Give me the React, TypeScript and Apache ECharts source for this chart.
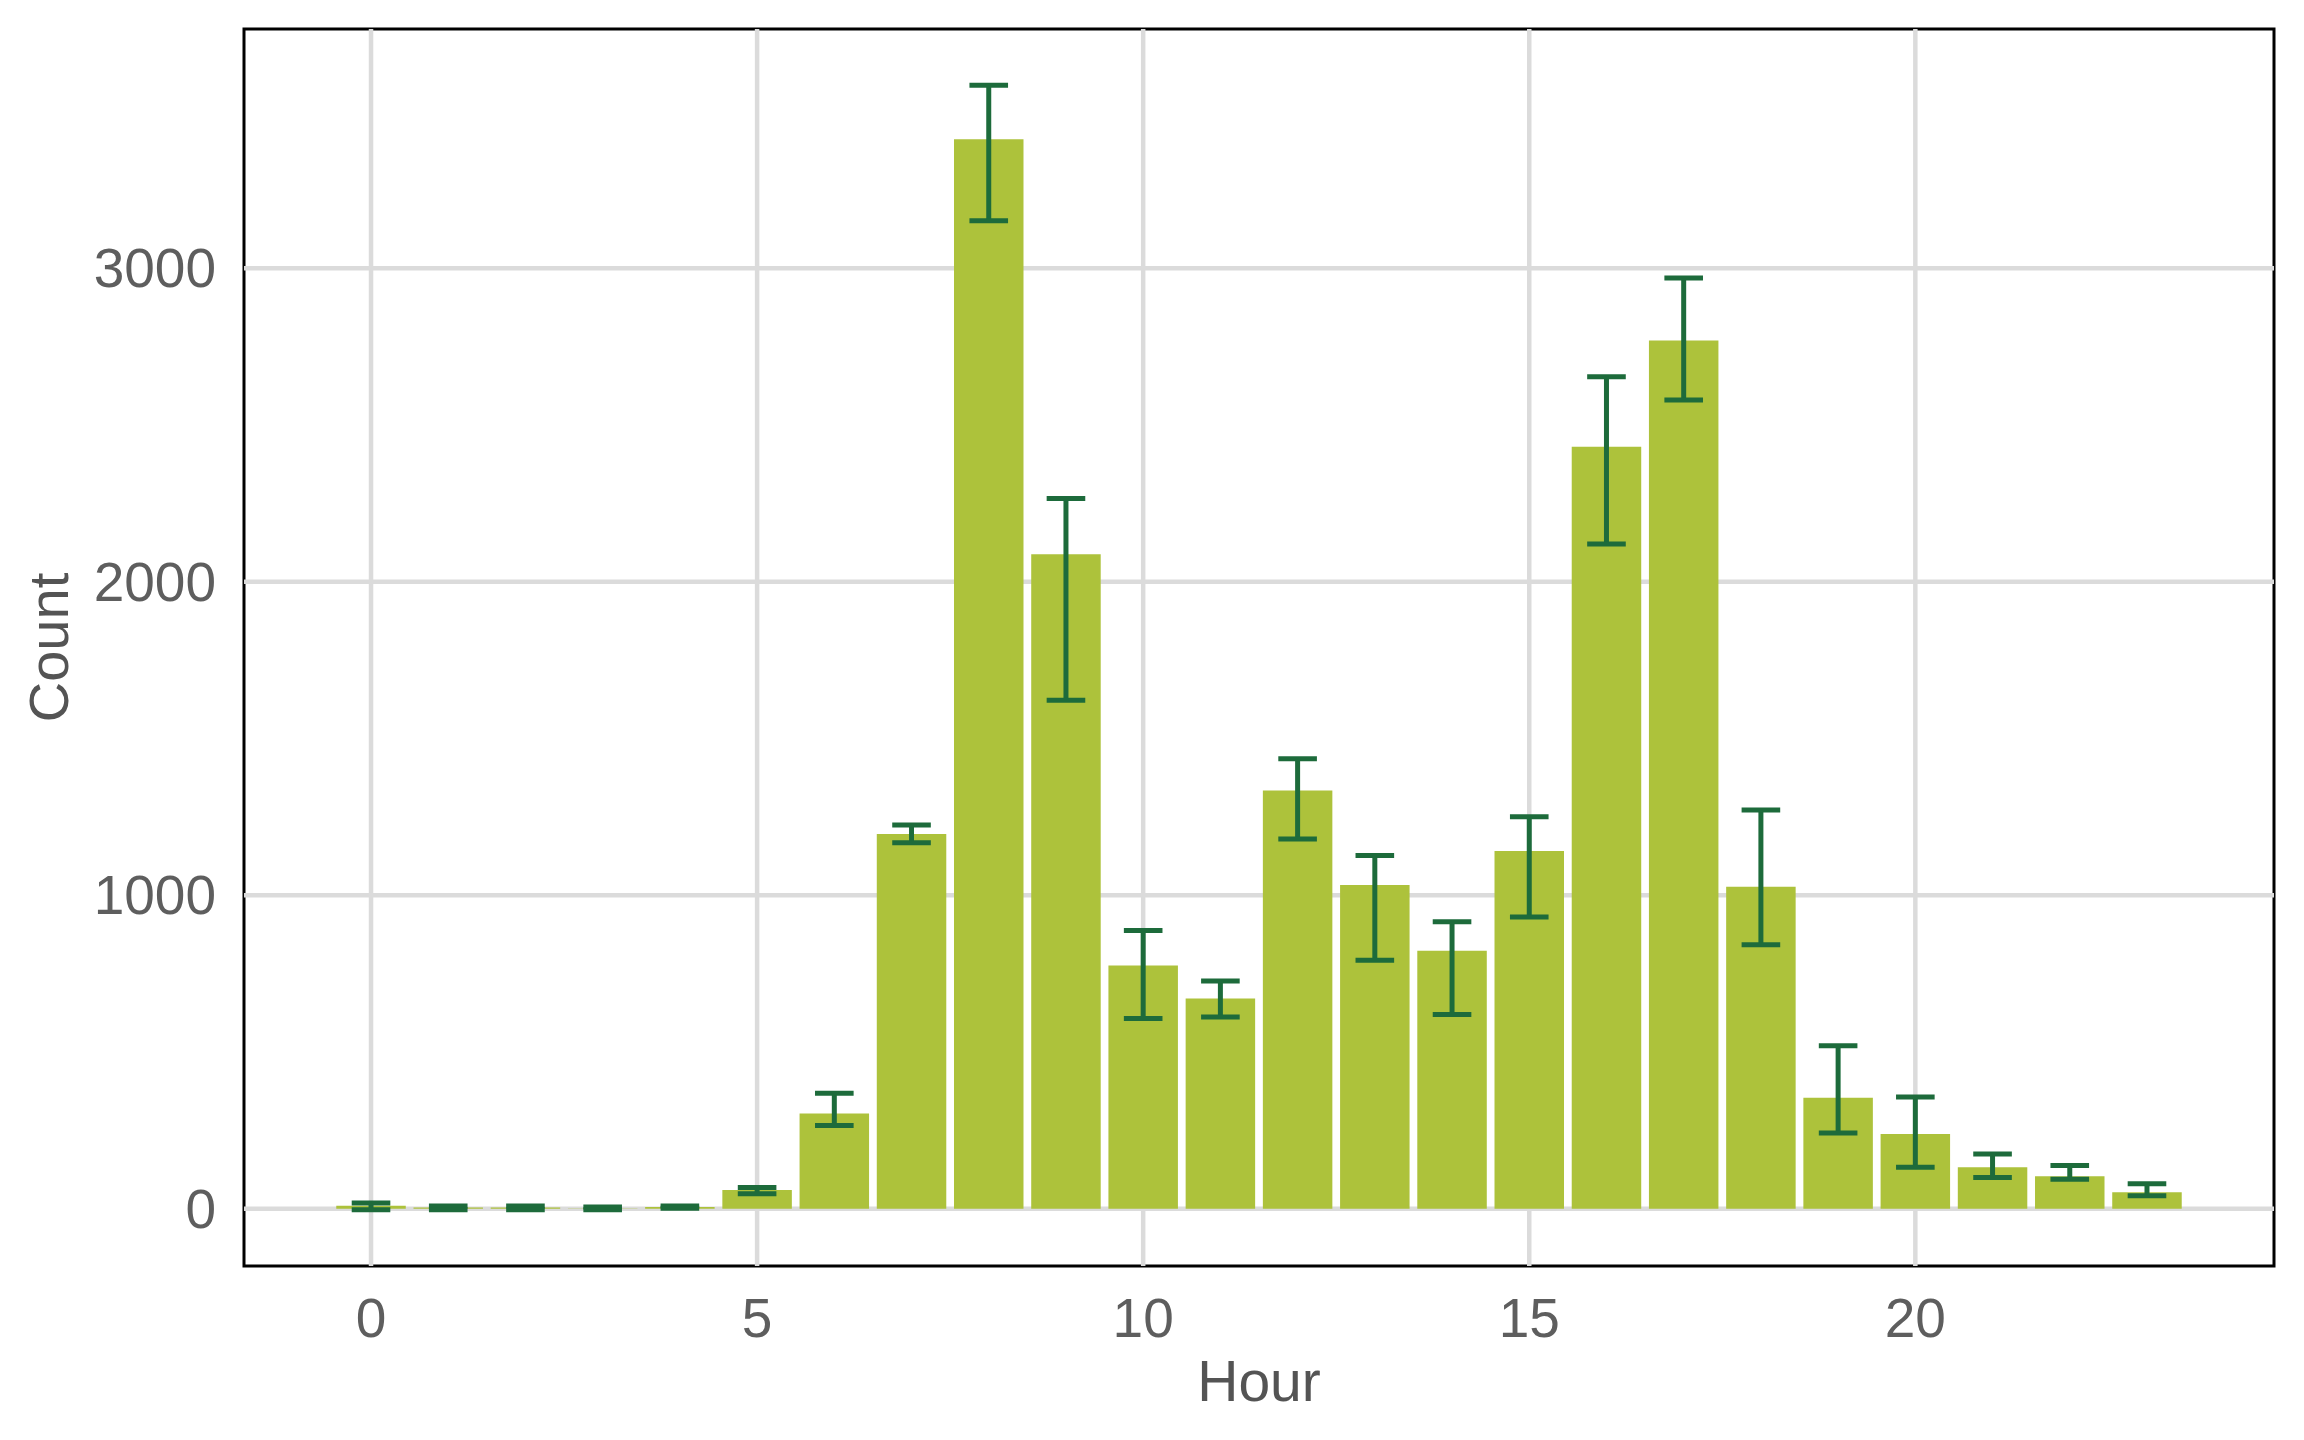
import React, { useEffect, useRef } from "react";
import * as echarts from "echarts";

const HOURS = [0, 1, 2, 3, 4, 5, 6, 7, 8, 9, 10, 11, 12, 13, 14, 15, 16, 17, 18, 19, 20, 21, 22, 23];
const COUNTS = [10, 4, 4, 1, 6, 60, 304, 1196, 3412, 2088, 776, 671, 1334, 1033, 823, 1141, 2431, 2770, 1027, 354, 239, 133, 104, 53];
const LOWER = [-3, -3, -3, -3, 2, 48, 266, 1168, 3152, 1622, 607, 612, 1180, 793, 620, 931, 2121, 2580, 842, 242, 133, 100, 94, 42];
const UPPER = [19, 9, 9, 6, 9, 68, 369, 1224, 3584, 2266, 888, 727, 1436, 1127, 916, 1251, 2654, 2969, 1272, 520, 357, 175, 138, 80];
const X_TICKS = [0, 5, 10, 15, 20];
const Y_TICKS = [0, 1000, 2000, 3000];

const BAR_COLOR = "#ADC23B";
const ERR_COLOR = "#1D6B3B";
const GRID_COLOR = "#DBDBDB";
const TICK_TEXT = "#5E5E5E";
const TITLE_TEXT = "#545454";
const FONT = "'Liberation Sans', Arial, Helvetica, sans-serif";

const BAR_HALF = 0.45;
const CAP_HALF = 0.25;

export default function App() {
  const ref = useRef<HTMLDivElement | null>(null);

  useEffect(() => {
    if (!ref.current) return;
    const chart = echarts.init(ref.current, undefined, { renderer: "svg" });

    const xLo = Math.min(...HOURS) - BAR_HALF;
    const xHi = Math.max(...HOURS) + BAR_HALF;
    const xPad = (xHi - xLo) * 0.05;
    const yLo = Math.min(0, ...LOWER);
    const yHi = Math.max(...UPPER, ...COUNTS);
    const yPad = (yHi - yLo) * 0.05;
    const xMin = xLo - xPad;
    const xMax = xHi + xPad;
    const yMin = yLo - yPad;
    const yMax = yHi + yPad;

    const barData = HOURS.map((h, i) => [h, COUNTS[i]]);
    const errData = HOURS.map((h, i) => [h, LOWER[i], UPPER[i]]);

    chart.setOption({
      animation: false,
      backgroundColor: "#FFFFFF",
      grid: {
        left: 244,
        right: 30,
        top: 29,
        bottom: 174,
        show: true,
        borderColor: "#000000",
        borderWidth: 3,
        backgroundColor: "transparent",
        containLabel: false,
      },
      xAxis: {
        type: "value",
        min: xMin,
        max: xMax,
        name: "Hour",
        nameLocation: "middle",
        nameGap: 86,
        nameTextStyle: { color: TITLE_TEXT, fontSize: 57, fontFamily: FONT },
        axisLine: { show: false },
        splitLine: { show: false },
        axisTick: {
          show: true,
          customValues: X_TICKS,
          length: 13,
          lineStyle: { color: "#000000", width: 3 },
        },
        axisLabel: {
          customValues: X_TICKS,
          color: TICK_TEXT,
          fontSize: 55,
          fontFamily: FONT,
          margin: 24,
          formatter: (v: number) => String(v),
        },
      },
      yAxis: {
        type: "value",
        min: yMin,
        max: yMax,
        name: "Count",
        nameLocation: "middle",
        nameGap: 168,
        nameRotate: 90,
        nameTextStyle: { color: TITLE_TEXT, fontSize: 56, fontFamily: FONT },
        axisLine: { show: false },
        splitLine: { show: false },
        axisTick: {
          show: true,
          customValues: Y_TICKS,
          length: 13,
          lineStyle: { color: "#000000", width: 3 },
        },
        axisLabel: {
          customValues: Y_TICKS,
          color: TICK_TEXT,
          fontSize: 55,
          fontFamily: FONT,
          margin: 28,
          formatter: (v: number) => String(v),
        },
      },
      series: [
        {
          type: "custom",
          name: "xgrid",
          z: 1,
          silent: true,
          data: X_TICKS.map((v) => [v, 0]),
          renderItem: (params: any, api: any) => {
            const v = api.value(0);
            const a = api.coord([v, yMin]);
            const b = api.coord([v, yMax]);
            return {
              type: "line",
              shape: { x1: a[0], y1: a[1], x2: b[0], y2: b[1] },
              style: { stroke: GRID_COLOR, lineWidth: 4.5 },
            };
          },
        },
        {
          type: "custom",
          name: "ygrid",
          z: 1,
          silent: true,
          data: Y_TICKS.map((v) => [0, v]),
          renderItem: (params: any, api: any) => {
            const v = api.value(1);
            const a = api.coord([xMin, v]);
            const b = api.coord([xMax, v]);
            return {
              type: "line",
              shape: { x1: a[0], y1: a[1], x2: b[0], y2: b[1] },
              style: { stroke: GRID_COLOR, lineWidth: 4.5 },
            };
          },
        },
        {
          type: "custom",
          name: "Count",
          z: 2,
          data: barData,
          renderItem: (params: any, api: any) => {
            const h = api.value(0);
            const v = api.value(1);
            const p0 = api.coord([h - BAR_HALF, 0]);
            const p1 = api.coord([h + BAR_HALF, v]);
            const y = Math.min(p0[1], p1[1]);
            return {
              type: "rect",
              shape: { x: p0[0], y, width: p1[0] - p0[0], height: Math.abs(p0[1] - p1[1]) },
              style: { fill: BAR_COLOR },
            };
          },
        },
        {
          type: "custom",
          name: "Error",
          z: 3,
          data: errData,
          renderItem: (params: any, api: any) => {
            const h = api.value(0);
            const lo = api.value(1);
            const hi = api.value(2);
            const top = api.coord([h, hi]);
            const bot = api.coord([h, lo]);
            const cl = api.coord([h - CAP_HALF, hi]);
            const cr = api.coord([h + CAP_HALF, hi]);
            const style = { stroke: ERR_COLOR, lineWidth: 5, lineCap: "butt" };
            return {
              type: "group",
              children: [
                { type: "line", shape: { x1: top[0], y1: top[1], x2: bot[0], y2: bot[1] }, style },
                { type: "line", shape: { x1: cl[0], y1: top[1], x2: cr[0], y2: top[1] }, style },
                { type: "line", shape: { x1: cl[0], y1: bot[1], x2: cr[0], y2: bot[1] }, style },
              ],
            };
          },
        },
      ],
    });

    return () => {
      chart.dispose();
    };
  }, []);

  return (
    <div
      ref={ref}
      style={{ position: "fixed", left: 0, top: 0, width: 2304, height: 1440, background: "#FFFFFF" }}
    />
  );
}
